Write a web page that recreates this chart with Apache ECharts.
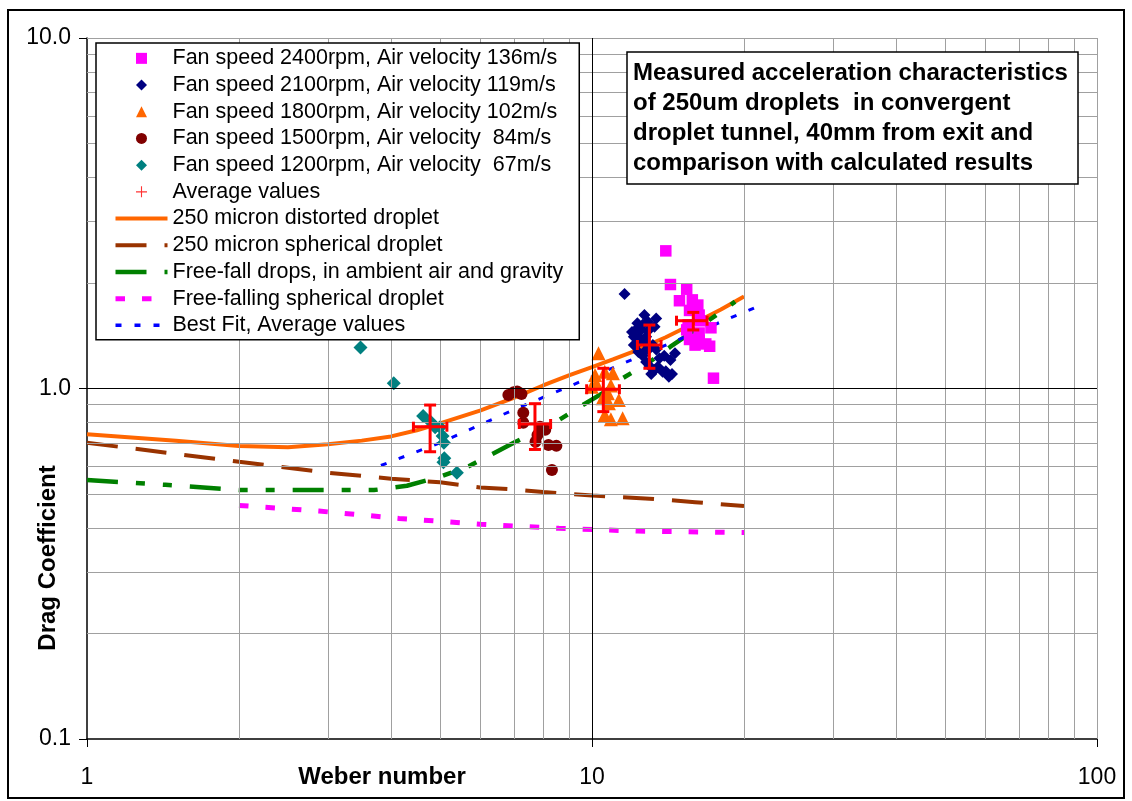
<!DOCTYPE html>
<html>
<head>
<meta charset="utf-8">
<script src="https://cdn.jsdelivr.net/npm/echarts@6/dist/echarts.min.js"></script>
<style>
html,body{margin:0;padding:0;background:#fff;}
#chart{width:1132px;height:801px;}
</style>
</head>
<body>
<div id="chart"></div>
<script>
// ---------- data ----------
const fan2400 = [[14.0,2.47],[14.3,1.98],[15.4,1.92],[14.9,1.78],[15.8,1.79],[16.2,1.73],[15.6,1.67],[16.3,1.62],[16.4,1.56],[15.5,1.52],[17.2,1.49],[15.4,1.47],[16.3,1.44],[15.6,1.38],[16.0,1.33],[16.8,1.34],[17.1,1.32],[16.3,1.37],[17.4,1.07]];
const fan2100 = [[11.6,1.86],[12.7,1.62],[13.4,1.585],[12.3,1.534],[12.2,1.468],[12.5,1.468],[12.1,1.405],[12.8,1.405],[12.3,1.345],[12.1,1.33],[13.2,1.33],[13.4,1.293],[12.8,1.288],[12.35,1.27],[14.6,1.26],[14.3,1.206],[12.8,1.19],[13.0,1.16],[13.5,1.154],[13.8,1.117],[14.2,1.08],[13.1,1.10],[12.0,1.45],[12.6,1.52],[12.9,1.55],[13.3,1.50],[12.4,1.40],[12.7,1.36],[13.0,1.30],[12.6,1.24],[13.6,1.22],[13.9,1.24],[14.0,1.12],[13.3,1.13],[14.4,1.10],[12.9,1.46]];
const fan1800 = [[10.3,1.26],[10.14,1.093],[11.0,1.105],[10.6,1.117],[10.2,1.035],[9.99,1.012],[10.9,1.02],[10.75,0.969],[11.3,0.927],[10.5,0.938],[10.8,0.907],[10.6,0.84],[10.9,0.817],[11.5,0.822]];
const fan1500 = [[6.83,0.958],[7.11,0.98],[7.25,0.965],[7.0,0.975],[7.31,0.853],[7.31,0.799],[7.89,0.778],[8.08,0.762],[7.8,0.737],[7.73,0.705],[8.2,0.69],[8.5,0.686],[8.33,0.585]];
const fan1200 = [[3.48,1.31],[4.05,1.035],[4.63,0.835],[4.79,0.804],[4.89,0.775],[5.0,0.775],[5.06,0.732],[5.09,0.70],[5.1,0.632],[5.08,0.616],[5.4,0.575]];
// average: [x, y, xLow, xHigh, yLow, yHigh]
const averages = [[4.78,0.778,4.43,5.16,0.660,0.897],[7.71,0.792,7.18,8.28,0.670,0.905],[10.53,0.995,9.76,11.33,0.859,1.142],[12.99,1.331,12.3,13.7,1.142,1.517],[15.87,1.561,14.7,16.9,1.469,1.649]];
const distorted = [[1,0.74],[1.5,0.71],[2,0.685],[2.5,0.68],[3,0.693],[3.5,0.71],[4,0.73],[4.5,0.76],[5,0.795],[6,0.865],[7,0.94],[8,1.02],[9,1.09],[10,1.15],[11,1.21],[12,1.27],[14,1.40],[16,1.54],[18,1.68],[20,1.83]];
const spherical = [[1,0.70],[2,0.618],[3,0.575],[4,0.553],[5,0.54],[6,0.522],[7,0.515],[8,0.507],[10,0.495],[13,0.485],[16,0.474],[20,0.462]];
const freeFall = [[1,0.548],[1.43,0.531],[1.7,0.522],[2,0.513],[3,0.513],[3.7,0.513],[4.3,0.528],[5,0.56],[5.7,0.60],[6.3,0.646],[7,0.70],[8,0.77],[8.6,0.813],[9.5,0.89],[10.5,0.97],[11.5,1.07],[13,1.19],[14.3,1.316],[16,1.47],[18.6,1.71],[19.2,1.77]];
const freeFallSph = [[2,0.464],[2.88,0.447],[4.15,0.426],[6,0.41],[8.6,0.399],[12.3,0.392],[20,0.388]];
const bestFit = [[3.82,0.603],[5,0.70],[7,0.87],[10,1.08],[14,1.33],[21,1.70]];

const seriesNames = ['Fan speed 2400rpm, Air velocity 136m/s','Fan speed 2100rpm, Air velocity 119m/s','Fan speed 1800rpm, Air velocity 102m/s','Fan speed 1500rpm, Air velocity  84m/s','Fan speed 1200rpm, Air velocity  67m/s','Average values','250 micron distorted droplet','250 micron spherical droplet','Free-fall drops, in ambient air and gravity','Free-falling spherical droplet','Best Fit, Average values'];

const xGridMinor = [2,3,4,5,6,7,8,9,20,30,40,50,60,70,80,90,100];
const yGridMinor = [0.2,0.3,0.4,0.5,0.6,0.7,0.8,0.9,2,3,4,5,6,7,8,9,10];
const xGridMajor = [10];
const yGridMajor = [1];
const titleText = 'Measured acceleration characteristics\nof 250um droplets  in convergent\ndroplet tunnel, 40mm from exit and\ncomparison with calculated results';
const xName = 'Weber number';
const yName = 'Drag Coefficient';

// ---------- chart ----------
const FONT = '"Liberation Sans", Arial, sans-serif';
const chart = echarts.init(document.getElementById('chart'), null, {renderer:'canvas'});

const gray = '#a0a0a0';
const gridMarks = []
  .concat(xGridMinor.map(v => ({xAxis: v, lineStyle:{color: gray, width:1, type:'solid'}})))
  .concat(yGridMinor.map(v => ({yAxis: v, lineStyle:{color: gray, width:1, type:'solid'}})))
  .concat(xGridMajor.map(v => ({xAxis: v, lineStyle:{color: '#000', width:1, type:'solid'}})))
  .concat(yGridMajor.map(v => ({yAxis: v, lineStyle:{color: '#000', width:1, type:'solid'}})));

const plusPath = 'path://M-1,-10L1,-10L1,-1L10,-1L10,1L1,1L1,10L-1,10L-1,1L-10,1L-10,-1L-1,-1Z';
const squarePath = 'path://M0,0L10,0L10,10L0,10Z';
const diamondPath = 'path://M5,0L10,5L5,10L0,5Z';
const trianglePath = 'path://M5,0L10,10L0,10Z';
const circlePath = 'path://M5,0A5,5,0,1,1,4.99,0Z';

function scatter(name, data, symbol, size, color) {
  return {name, type:'scatter', data, symbol, symbolSize:size, symbolKeepAspect:true, z:4,
    itemStyle:{color, opacity:1}, emphasis:{disabled:true}, silent:true};
}
function line(name, data, color, width, dash) {
  return {name, type:'line', data, symbol:'none', showSymbol:false, z:3,
    lineStyle:{color, width, type:dash, cap:'butt'}, itemStyle:{color},
    emphasis:{disabled:true}, silent:true, smooth:false};
}

const lineWidths = [4, 4, 4.5, 5, 3.5];
const scatterIcons = [squarePath, diamondPath, trianglePath, circlePath, diamondPath, plusPath];
const legendData = seriesNames.map((n, i) => {
  if (i < 6) return {name:n, icon:scatterIcons[i]};
  return {name:n, itemStyle:{color:'rgba(0,0,0,0)', borderWidth:0, opacity:0},
    lineStyle:{width:lineWidths[i-6]}};
});

const option = {
  animation:false,
  backgroundColor:'#fff',
  grid:{left:87, right:35, top:38, bottom:62, containLabel:false, show:false},
  xAxis:{type:'log', logBase:10, min:1, max:100,
    axisLine:{show:true, onZero:false, lineStyle:{color:'#000', width:1.5}},
    axisTick:{show:true, length:8, inside:false, lineStyle:{color:'#000', width:1}},
    minorTick:{show:false}, splitLine:{show:false}, minorSplitLine:{show:false},
    axisLabel:{show:true, color:'#000', fontSize:23, fontFamily:FONT, margin:27}},
  yAxis:{type:'log', logBase:10, min:0.1, max:10,
    axisLine:{show:true, onZero:false, lineStyle:{color:'#000', width:1.5}},
    axisTick:{show:true, length:8, inside:false, lineStyle:{color:'#000', width:1}},
    minorTick:{show:false}, splitLine:{show:false}, minorSplitLine:{show:false},
    axisLabel:{show:true, color:'#000', fontSize:23, fontFamily:FONT, margin:16,
      formatter: v => Number(v).toFixed(1)}},
  legend:{show:true, orient:'vertical', left:96, top:43,
    padding:[2,16,1,17], itemWidth:52, itemHeight:11, itemGap:0, symbolKeepAspect:true,
    backgroundColor:'#fff', borderColor:'#000', borderWidth:1.5, borderRadius:0,
    selectedMode:false, data:legendData, z:20,
    textStyle:{color:'#000', fontSize:21.5, lineHeight:26.7, fontFamily:FONT}},
  series:[
    {name:'grid', type:'line', data:[], symbol:'none', z:1, silent:true,
      markLine:{silent:true, symbol:['none','none'], label:{show:false}, animation:false,
        emphasis:{disabled:true}, data:gridMarks}},
    line(seriesNames[6], distorted, '#ff6600', 4, 'solid'),
    line(seriesNames[7], spherical, '#993300', 4, [31,18]),
    line(seriesNames[8], freeFall, '#008000', 4.5, [31,18,9,18,9,18]),
    line(seriesNames[9], freeFallSph, '#ff00ff', 5, [9.5,17]),
    line(seriesNames[10], bestFit, '#0000ff', 3, [6,13]),
    scatter(seriesNames[4], fan1200, 'diamond', 14, '#008080'),
    scatter(seriesNames[3], fan1500, 'circle', 12, '#800000'),
    scatter(seriesNames[2], fan1800, 'triangle', 14, '#ff6600'),
    scatter(seriesNames[1], fan2100, 'diamond', 12, '#000080'),
    scatter(seriesNames[0], fan2400, 'rect', 11.5, '#ff00ff'),
    {name:'errorbars', type:'custom', data:averages, z:5, silent:true,
      encode:{x:0, y:1},
      renderItem:function(params, api){
        const x = api.value(0), y = api.value(1);
        const c = api.coord([x, y]);
        const l = api.coord([api.value(2), y]);
        const r = api.coord([api.value(3), y]);
        const b = api.coord([x, api.value(4)]);
        const t = api.coord([x, api.value(5)]);
        const st = {stroke:'#ff0000', lineWidth:3};
        const seg = (x1,y1,x2,y2) => ({type:'line', shape:{x1,y1,x2,y2}, style:st});
        return {type:'group', children:[
          seg(l[0], c[1], r[0], c[1]),
          seg(l[0], c[1]-5, l[0], c[1]+5),
          seg(r[0], c[1]-5, r[0], c[1]+5),
          seg(c[0], t[1], c[0], b[1]),
          seg(c[0]-6, t[1], c[0]+6, t[1]),
          seg(c[0]-6, b[1], c[0]+6, b[1])
        ]};
      }},
    {name:seriesNames[5], type:'scatter', data:averages.map(a => [a[0], a[1]]),
      symbol:plusPath, symbolSize:18, z:6, silent:true,
      itemStyle:{color:'#ff0000'}, emphasis:{disabled:true}}
  ],
  graphic:[
    {type:'rect', z:100, silent:true, shape:{x:8, y:10, width:1116, height:788},
      style:{fill:'none', stroke:'#000', lineWidth:2}},
    {type:'rect', z:50, silent:true, shape:{x:627, y:52, width:451, height:132},
      style:{fill:'#fff', stroke:'#000', lineWidth:1.5}},
    {type:'text', z:51, silent:true, x:633, y:58,
      style:{text:titleText, font:'bold 24px ' + FONT, fill:'#000', lineHeight:30,
        textAlign:'left', textVerticalAlign:'top'}},
    {type:'text', z:51, silent:true, x:382, y:777,
      style:{text:xName, font:'bold 24px ' + FONT, fill:'#000', textAlign:'center', textVerticalAlign:'middle'}},
    {type:'text', z:51, silent:true, x:48, y:558, rotation:Math.PI/2,
      style:{text:yName, font:'bold 24px ' + FONT, fill:'#000', textAlign:'center', textVerticalAlign:'middle'}}
  ]
};
chart.setOption(option);
</script>
</body>
</html>
